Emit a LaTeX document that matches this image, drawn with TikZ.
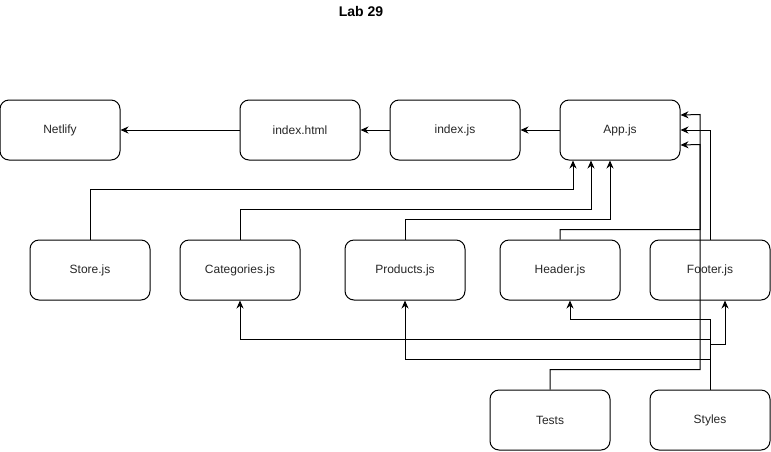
\documentclass[tikz,border=0pt]{standalone}
\usepackage{fontspec}
\setmainfont{Liberation Sans}
\usetikzlibrary{arrows.meta}
\tikzset{
  box/.style={draw,rounded corners=9pt,line width=1pt,minimum width=120pt,minimum height=60pt,
    inner sep=0pt,font=\fontsize{12}{14}\selectfont,text=black!85},
  arr/.style={line width=1pt,-{Stealth[length=8pt,width=7pt]}}
}
\begin{document}
\begin{tikzpicture}[x=1pt,y=-1pt]
\useasboundingbox (0,0) rectangle (771,451);
%\draw[help lines] (0,0) grid (771,451);
\node (title) at (361,11) [font=\fontsize{14}{16}\selectfont\bfseries] {Lab 29};

\node (netlify) at (60,130) [box] {Netlify};
\node (html) at (300,130) [box] {index.html};
\node (index) at (455,130) [box,minimum width=130pt] {index.js};
\node (app) at (620,130) [box] {App.js};

\node (store) at (90,270) [box] {Store.js};
\node (cats) at (240,270) [box] {Categories.js};
\node (prods) at (405,270) [box] {Products.js};
\node (header) at (560,270) [box] {Header.js};
\node (footer) at (710,270) [box] {Footer.js};

\node (tests) at (550,420) [box] {Tests};
\node (styles) at (710,420) [box] {Styles};

\draw [arr] (app) -- (index);
\draw [arr] (index) -- (html);
\draw [arr] (html) -- (netlify);

\draw [arr] (store.north) -- ++(0,-50) -| ([xshift=-47pt]app.south);
\draw [arr] (cats.north) -- ++(0,-30) -| ([xshift=-29pt]app.south);
\draw [arr] (prods.north) -- ++(0,-20) -| ([xshift=-10pt]app.south);
\draw [arr] (header.north) -- ++(0,-10) -| ++(140,-85) -- ([yshift=-15pt]app.east);
\draw [arr] (footer.north) |- (app.east);
\draw [arr] (tests.north) -- ++(0,-20) -| ++(150,-255) -- ([yshift=15pt]app.east);

\draw [arr] (styles.north) -- ++(0,-70) -| ([xshift=10pt]header.south);
\draw [arr] (styles.north) -- ++(0,-50) -| (cats.south);
\draw [arr] (styles.north) -- ++(0,-45) -| ([xshift=15pt]footer.south);
\draw [arr] (styles.north) -- ++(0,-30) -| (prods.south);
\end{tikzpicture}
\end{document}
